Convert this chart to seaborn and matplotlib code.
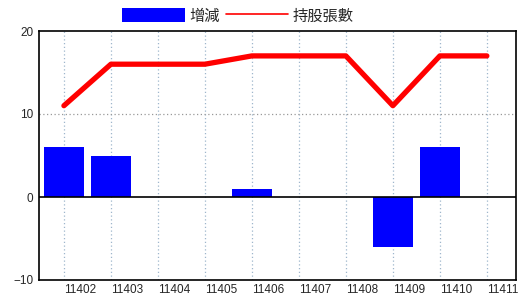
import matplotlib
matplotlib.use("Agg")
import matplotlib.pyplot as plt
import seaborn as sns
import pandas as pd
from matplotlib.patches import Patch
from matplotlib.lines import Line2D
from matplotlib.transforms import ScaledTranslation

months = ["11402", "11403", "11404", "11405", "11406", "11407", "11408", "11409", "11410", "11411"]
change = [6, 5, 0, 0, 1, 0, 0, -6, 6, 0]
holdings = [11, 16, 16, 16, 17, 17, 17, 11, 17, 17]

df = pd.DataFrame({"month": months, "change": change, "holdings": holdings,
                   "pos": list(range(len(months)))})

sns.set_style("white")
plt.rcParams["font.family"] = ["Noto Sans CJK TC", "DejaVu Sans"]

fig = plt.figure(figsize=(5.2, 3.0), dpi=100)
ax = fig.add_axes([39/520, 1-280/300, (516-39)/520, (280-31)/300])

sns.barplot(data=df, x="month", y="change", order=months, color="#0000FF",
            saturation=1, width=0.85, linewidth=0, edgecolor="none", ax=ax, zorder=3)
sns.lineplot(data=df, x="pos", y="holdings", color="#FF0000", linewidth=3.8,
             ax=ax, zorder=4)

ax.set_xlim(-0.53, 9.62)
ax.set_ylim(-10, 20)
ax.set_yticks([-10, 0, 10, 20])
ax.set_xticks(range(len(months)))
ax.set_xticklabels(months)
ax.set_xlabel("")
ax.set_ylabel("")

for lab in ax.get_xticklabels():
    lab.set_horizontalalignment("left")
    lab.set_fontfamily(["Liberation Sans"])
    lab.set_fontsize(8.5)
    lab.set_transform(lab.get_transform() + ScaledTranslation(2/100, 0, fig.dpi_scale_trans))
for lab in ax.get_yticklabels():
    lab.set_fontfamily(["Liberation Sans"])
    lab.set_fontsize(8.5)

ax.tick_params(axis="both", length=0, pad=3)
ax.tick_params(axis="y", pad=4)

ax.grid(False)
for i in range(len(months)):
    ax.axvline(i, color="#9fb6cc", linestyle=(0, (1, 2)), linewidth=0.9, zorder=1)
ax.axhline(10, color="#999999", linestyle=(0, (1, 2)), linewidth=0.9, zorder=1)
ax.axhline(0, color="black", linewidth=1.2, zorder=5)

for s in ax.spines.values():
    s.set_visible(True)
    s.set_color("black")
    s.set_linewidth(1.2)

handles = [Patch(facecolor="#0000FF", edgecolor="none"),
           Line2D([0], [0], color="#FF0000", linewidth=1.2)]
fig.legend(handles, ["增減", "持股張數"], loc="center",
           bbox_to_anchor=(238/520, 1-16/300), ncol=2, frameon=False,
           prop={"family": ["Noto Sans CJK TC", "DejaVu Sans"], "size": 11},
           handlelength=4.1, handleheight=1.0, handletextpad=0.3,
           columnspacing=0.4, borderpad=0, borderaxespad=0)

fig.savefig("out.png", dpi=100)
